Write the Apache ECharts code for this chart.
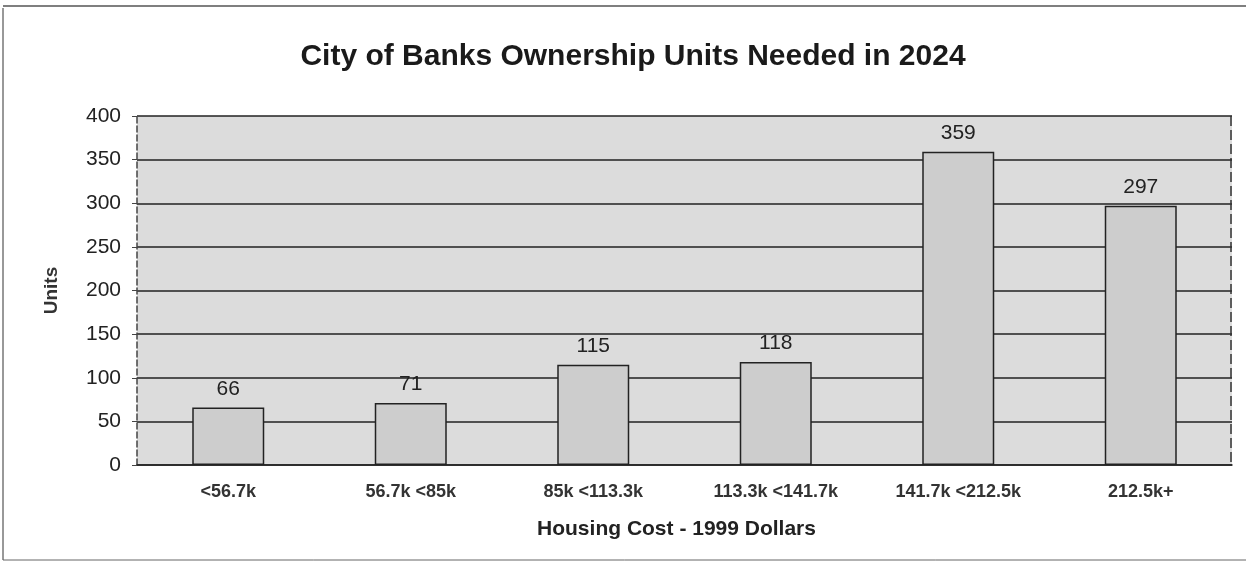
<!DOCTYPE html>
<html><head><meta charset="utf-8">
<script src="https://cdn.jsdelivr.net/npm/echarts@6/dist/echarts.min.js"></script>
<style>html,body{margin:0;padding:0;background:#fff}#c{width:1246px;height:564px}</style>
</head><body><div id="c"></div>
<script>
const categories = ["<56.7k", "56.7k <85k", "85k <113.3k", "113.3k <141.7k", "141.7k <212.5k", "212.5k+"];
const units = [66, 71, 115, 118, 359, 297];
const titleText = "City of Banks Ownership Units Needed in 2024";
const xName = "Housing Cost - 1999 Dollars";
const yName = "Units";

const F = 'Liberation Sans, Arial';
const chart = echarts.init(document.getElementById('c'), null, {renderer: 'canvas'});
chart.setOption({
  backgroundColor: '#ffffff',
  animation: false,
  title: {
    text: titleText, left: 628, top: 37, textAlign: 'center',
    textStyle: {fontFamily: F, fontWeight: 'bold', fontSize: 30, color: '#1a1a1a'}
  },
  grid: {left: 137, right: 14, top: 116, bottom: 99, show: true, backgroundColor: '#dcdcdc', borderWidth: 0},
  graphic: [
    {type: 'line', shape: {x1: 3, y1: 8, x2: 3, y2: 560}, style: {stroke: '#333', lineWidth: 1}},
    {type: 'line', shape: {x1: 3, y1: 6, x2: 1246, y2: 6}, style: {stroke: '#555', lineWidth: 1.5}},
    {type: 'line', shape: {x1: 3, y1: 560, x2: 1246, y2: 560}, style: {stroke: '#666', lineWidth: 1}},
    {type: 'line', z: 10, shape: {x1: 1231, y1: 116, x2: 1231, y2: 465}, style: {stroke: '#333', lineWidth: 1.5, lineDash: [10, 4]}}
  ],
  xAxis: {
    type: 'category', data: categories,
    name: xName, nameLocation: 'middle', nameGap: 54,
    nameTextStyle: {fontFamily: F, fontWeight: 'bold', fontSize: 21, color: '#222', padding: [0, 16, 0, 0]},
    axisLine: {lineStyle: {color: '#222', width: 1.5}},
    axisTick: {show: false},
    axisLabel: {fontFamily: F, fontWeight: 'bold', fontSize: 18, color: '#333', margin: 18}
  },
  yAxis: {
    type: 'value', min: 0, max: 400, interval: 50,
    name: yName, nameLocation: 'middle', nameGap: 76, nameRotate: 90,
    nameTextStyle: {fontFamily: F, fontWeight: 'bold', fontSize: 19, color: '#333'},
    axisLine: {show: true, lineStyle: {color: '#444', width: 1.5, type: 'dashed'}},
    axisTick: {show: true, length: 5, lineStyle: {color: '#444'}},
    axisLabel: {fontFamily: F, fontSize: 21, color: '#222', margin: 16},
    splitLine: {show: true, lineStyle: {color: '#222', width: 1.5}}
  },
  series: [{
    type: 'bar', data: units, barWidth: 72,
    itemStyle: {color: '#cdcdcd', borderColor: '#222', borderWidth: 1.5},
    label: {show: true, position: 'top', distance: 8, fontFamily: F, fontSize: 21, color: '#222'}
  }]
});
</script></body></html>
